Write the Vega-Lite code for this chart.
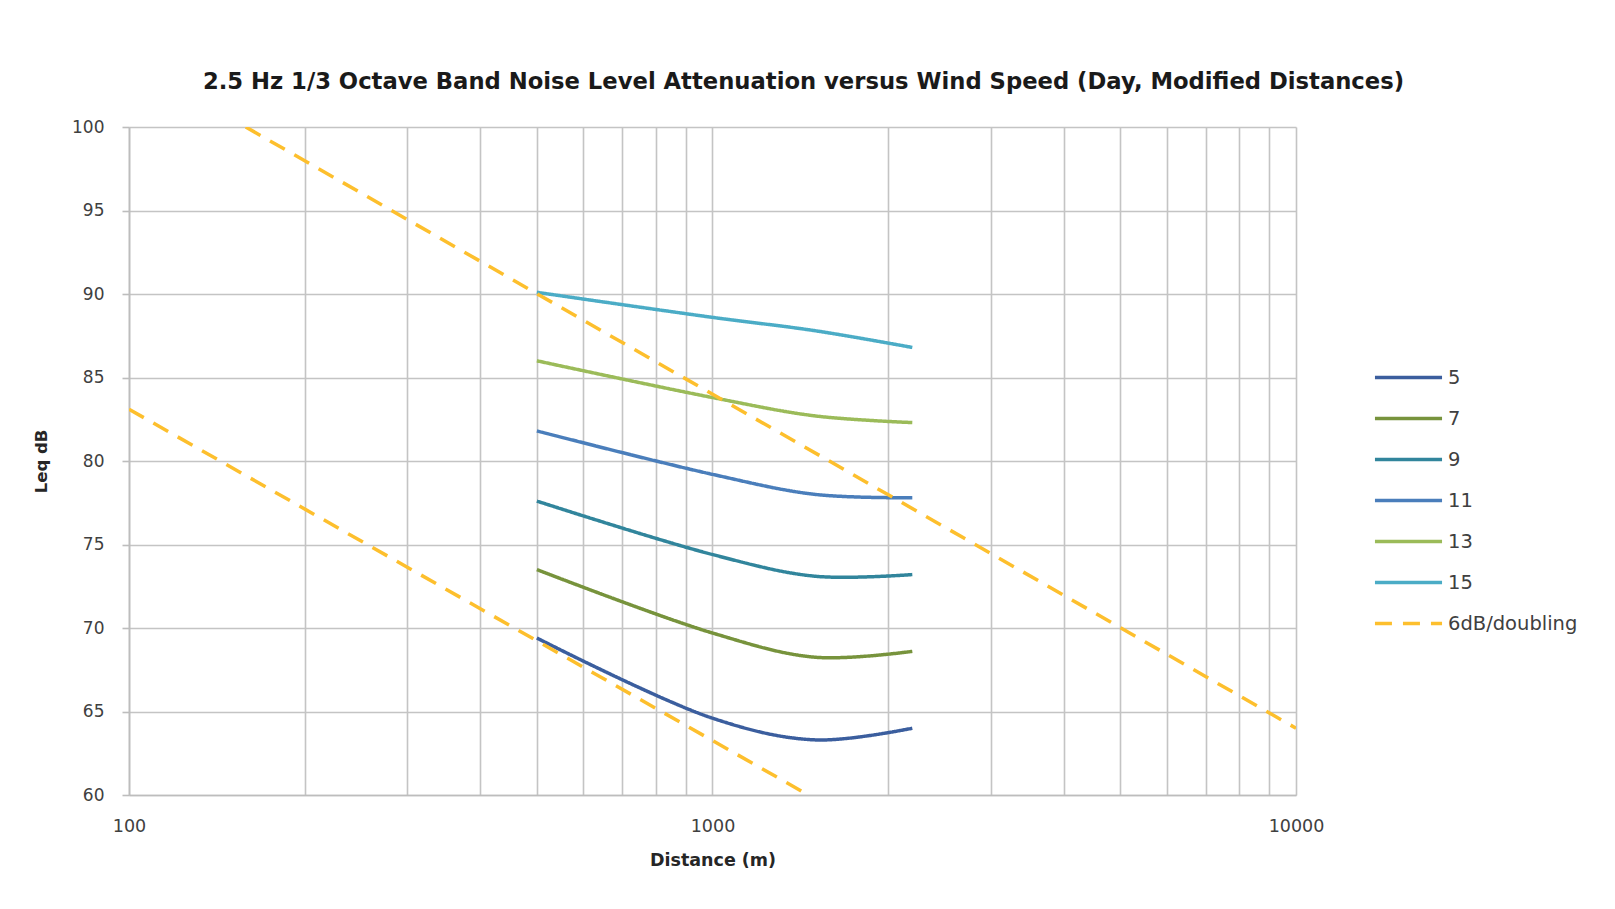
{
  "$schema": "https://vega.github.io/schema/vega-lite/v6.json",
  "width": 1167,
  "height": 668,
  "autosize": {"type": "none"},
  "padding": {"left": 129, "top": 127, "right": 319, "bottom": 114},
  "background": "white",
  "title": {
    "text": "2.5 Hz 1/3 Octave Band Noise Level Attenuation versus Wind Speed (Day, Modified Distances)",
    "anchor": "middle",
    "frame": "group",
    "dx": 91,
    "offset": 24,
    "font": "DejaVu Sans",
    "fontSize": 22.7,
    "fontWeight": "bold",
    "color": "#1a1a1a"
  },
  "config": {
    "view": {"stroke": null},
    "font": "DejaVu Sans"
  },
  "data": {
    "values": [
      {"series": "5", "seg": "5", "distance": 500, "leq": 69.4},
      {"series": "5", "seg": "5", "distance": 1000, "leq": 64.6},
      {"series": "5", "seg": "5", "distance": 1500, "leq": 63.3},
      {"series": "5", "seg": "5", "distance": 2200, "leq": 64.0},
      {"series": "7", "seg": "7", "distance": 500, "leq": 73.5},
      {"series": "7", "seg": "7", "distance": 1000, "leq": 69.7},
      {"series": "7", "seg": "7", "distance": 1500, "leq": 68.25},
      {"series": "7", "seg": "7", "distance": 2200, "leq": 68.6},
      {"series": "9", "seg": "9", "distance": 500, "leq": 77.6},
      {"series": "9", "seg": "9", "distance": 1000, "leq": 74.4},
      {"series": "9", "seg": "9", "distance": 1500, "leq": 73.1},
      {"series": "9", "seg": "9", "distance": 2200, "leq": 73.2},
      {"series": "11", "seg": "11", "distance": 500, "leq": 81.8},
      {"series": "11", "seg": "11", "distance": 1000, "leq": 79.2},
      {"series": "11", "seg": "11", "distance": 1500, "leq": 78.0},
      {"series": "11", "seg": "11", "distance": 2200, "leq": 77.8},
      {"series": "13", "seg": "13", "distance": 500, "leq": 86.0},
      {"series": "13", "seg": "13", "distance": 1000, "leq": 83.8},
      {"series": "13", "seg": "13", "distance": 1500, "leq": 82.7},
      {"series": "13", "seg": "13", "distance": 2200, "leq": 82.3},
      {"series": "15", "seg": "15", "distance": 500, "leq": 90.1},
      {"series": "15", "seg": "15", "distance": 1000, "leq": 88.6},
      {"series": "15", "seg": "15", "distance": 1500, "leq": 87.8},
      {"series": "15", "seg": "15", "distance": 2200, "leq": 86.8},
      {"series": "6dB/doubling", "seg": "upper", "distance": 158.5, "leq": 100},
      {"series": "6dB/doubling", "seg": "upper", "distance": 10000, "leq": 64},
      {"series": "6dB/doubling", "seg": "lower", "distance": 100, "leq": 83.1},
      {"series": "6dB/doubling", "seg": "lower", "distance": 1460, "leq": 60}
    ]
  },
  "mark": {"type": "line", "interpolate": "catmull-rom", "strokeWidth": 3.5, "clip": true},
  "encoding": {
    "x": {
      "field": "distance",
      "type": "quantitative",
      "scale": {"type": "log", "domain": [100, 10000], "nice": false},
      "axis": {
        "title": "Distance (m)",
        "titleFont": "DejaVu Sans",
        "titleFontSize": 17.5,
        "titleFontWeight": "bold",
        "titleColor": "#262626",
        "titlePadding": 17,
        "values": [100, 200, 300, 400, 500, 600, 700, 800, 900, 1000, 2000, 3000, 4000, 5000, 6000, 7000, 8000, 9000, 10000],
        "labelExpr": "(datum.value == 100 || datum.value == 1000 || datum.value == 10000) ? datum.value : ''",
        "labelFontSize": 17.5,
        "labelColor": "#404040",
        "labelPadding": 22,
        "labelOverlap": false,
        "labelFlush": false,
        "tickSize": 0,
        "domainColor": "#bdbdbd",
        "domainWidth": 1.6,
        "gridColor": "#c4c4c4",
        "gridWidth": 1.6
      }
    },
    "y": {
      "field": "leq",
      "type": "quantitative",
      "scale": {"domain": [60, 100], "nice": false},
      "axis": {
        "title": "Leq dB",
        "titleFont": "DejaVu Sans",
        "titleFontSize": 16.5,
        "titleFontWeight": "bold",
        "titleColor": "#262626",
        "titlePadding": 22,
        "values": [60, 65, 70, 75, 80, 85, 90, 95, 100],
        "labelFontSize": 17,
        "labelColor": "#404040",
        "labelPadding": 18,
        "tickSize": 7,
        "tickColor": "#bdbdbd",
        "tickWidth": 1.6,
        "domainColor": "#bdbdbd",
        "domainWidth": 1.6,
        "gridColor": "#c4c4c4",
        "gridWidth": 1.6
      }
    },
    "color": {
      "field": "series",
      "type": "nominal",
      "scale": {
        "domain": ["5", "7", "9", "11", "13", "15", "6dB/doubling"],
        "range": ["#3b5e9e", "#77933c", "#31859c", "#4a7ebb", "#9bbb59", "#4bacc6", "#fdbf2d"]
      },
      "legend": {
        "title": null,
        "orient": "none",
        "legendX": 1244,
        "legendY": 230,
        "symbolType": "stroke",
        "symbolSize": 4500,
        "symbolStrokeWidth": 3.5,
        "labelFontSize": 19.5,
        "labelColor": "#404040",
        "labelOffset": 4,
        "clipHeight": 41,
        "rowPadding": 0
      }
    },
    "strokeDash": {
      "field": "series",
      "type": "nominal",
      "scale": {
        "domain": ["5", "7", "9", "11", "13", "15", "6dB/doubling"],
        "range": [[1, 0], [1, 0], [1, 0], [1, 0], [1, 0], [1, 0], [17, 11]]
      },
      "legend": {
        "title": null,
        "orient": "none",
        "legendX": 1244,
        "legendY": 230,
        "symbolType": "stroke",
        "symbolSize": 4500,
        "symbolStrokeWidth": 3.5,
        "labelFontSize": 19.5,
        "labelColor": "#404040",
        "labelOffset": 4,
        "clipHeight": 41,
        "rowPadding": 0
      }
    },
    "detail": {"field": "seg", "type": "nominal"}
  }
}
